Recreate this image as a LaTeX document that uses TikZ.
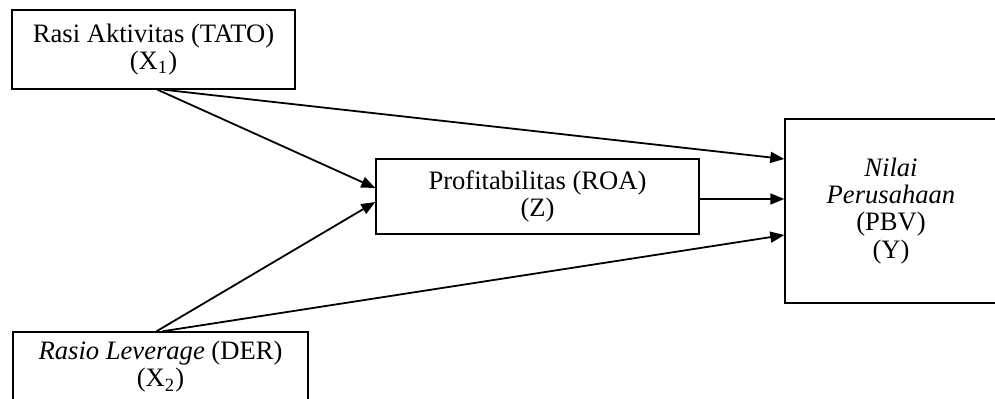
\documentclass[tikz,border=0pt]{standalone}
\usepackage{fontspec}
\setmainfont{Liberation Serif}
\usetikzlibrary{arrows.meta}

\begin{document}
\begin{tikzpicture}[x=0.5pt,y=-0.5pt,
  box/.style={draw,line width=0.7pt,align=center,inner sep=0pt,
    font=\fontsize{13.3}{13.6}\selectfont},
  path/.style={line width=0.9pt,-{Triangle[length=7pt,width=5.5pt]}}]
\useasboundingbox (0,0) rectangle (995,399);

\node[box,minimum width=141.5pt,minimum height=39.5pt] (X1) at (153.5,49.5)
  {Rasi Aktivitas (TATO)\\(X\textsubscript{1})};
\node[box,minimum width=147.5pt,minimum height=35pt] (X2) at (160.5,367)
  {\textit{Rasio Leverage} (DER)\\(X\textsubscript{2})};
\node[box,minimum width=161.5pt,minimum height=37.5pt] (Z) at (537.5,196.5)
  {Profitabilitas (ROA)\\(Z)};
\node[box,minimum width=106pt,minimum height=92pt] (Y) at (891,211)
  {\textit{Nilai}\\\textit{Perusahaan}\\(PBV)\\(Y)};

% paths
\draw[path] ([xshift=2pt]X1.south) -- ([yshift=4.25pt]Z.west);
\draw[path] ([xshift=5pt]X1.south) -- ([yshift=26pt]Y.west);
\draw[path] ([xshift=-2pt]X2.north) -- ([yshift=-2.75pt]Z.west);
\draw[path] ([xshift=1pt]X2.north) -- ([yshift=-12pt]Y.west);
\draw[path] ([yshift=-1.25pt]Z.east) -- ([yshift=-1.25pt]Z.east -| Y.west);
\end{tikzpicture}
\end{document}
